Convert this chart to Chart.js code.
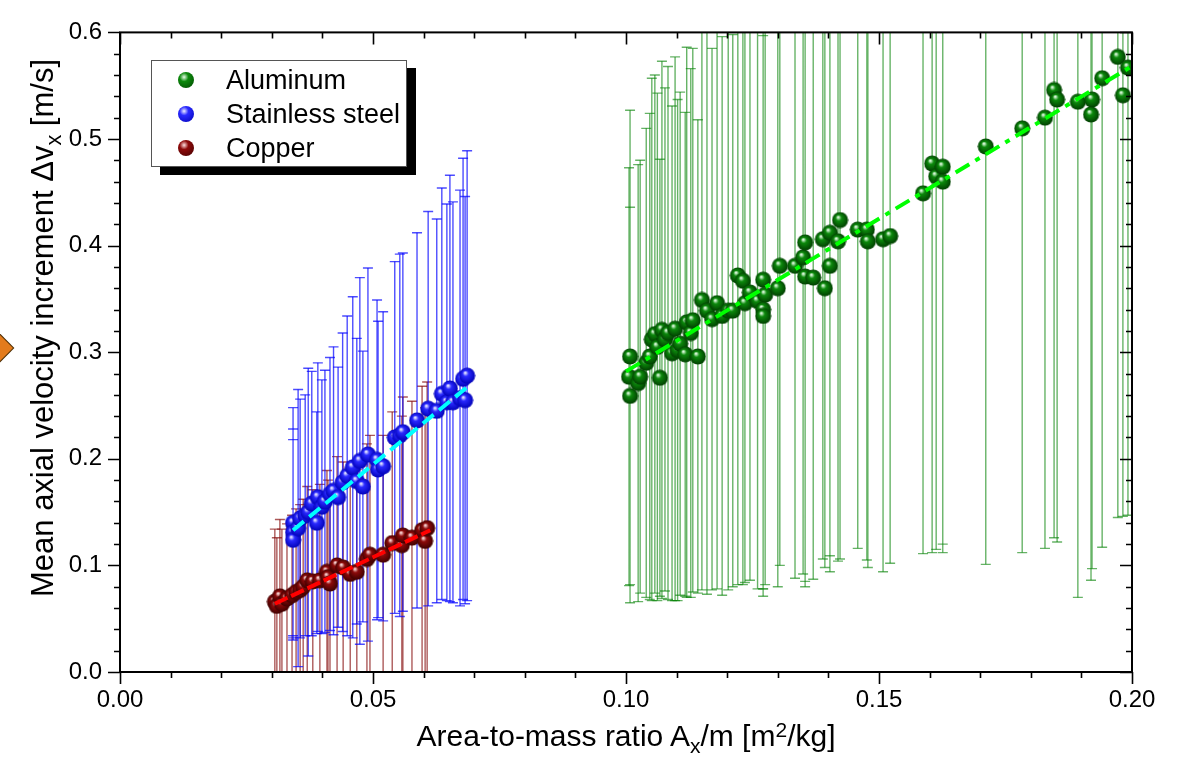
<!DOCTYPE html>
<html lang="en">
<head>
<meta charset="UTF-8">
<title>Mean axial velocity increment vs area-to-mass ratio</title>
<script src="https://cdn.jsdelivr.net/npm/chart.js"></script>
<style>
  body { margin: 0; background: #fff; font-family: "Liberation Sans", Arial, sans-serif; color: #000; }
  #wrap { position: relative; width: 1177px; height: 757px; overflow: hidden; }
  #grafico { position: absolute; left: 0; top: 0; }
  .legenda { position: absolute; left: 151px; top: 60px; width: 254px; height: 105px;
             border: 1px solid #555; background: #fff; box-shadow: 9px 8px 0 #000; }
  .item { position: absolute; left: 26px; height: 34px; line-height: 34px; font-size: 27px; white-space: nowrap; }
  .bola { display: inline-block; width: 16px; height: 16px; border-radius: 50%; vertical-align: middle;
          margin-right: 32px; position: relative; top: -2px; }
  .titulo-x { position: absolute; left: 120px; width: 1012px; top: 718px; line-height: 36px;
              font-size: 30px; text-align: center; }
  .titulo-y { position: absolute; left: -277px; top: 310px; width: 640px; height: 36px; line-height: 36px;
              font-size: 31px; text-align: center; transform: rotate(-90deg); }
  sub { font-size: 0.7em; vertical-align: -0.35em; line-height: 0; }
  sup { font-size: 0.7em; vertical-align: 0.45em; line-height: 0; }
  .seta { position: absolute; left: -17px; top: 335px; width: 24px; height: 24px; background: #e37b1c;
          border: 1px solid #4a2a00; transform: rotate(45deg); }
</style>
</head>
<body>
<div id="wrap">
  <canvas id="grafico" width="1177" height="757"></canvas>
  <div class="seta"></div>
  <div class="legenda">
    <div class="item" style="top:2px"><span class="bola" style="background:radial-gradient(circle at 38% 32%, #e8ffe8 0, #0c8a0c 30%, #004400 100%)"></span>Aluminum</div>
    <div class="item" style="top:36px"><span class="bola" style="background:radial-gradient(circle at 38% 32%, #eeeeff 0, #2a2aff 30%, #0000b4 100%)"></span>Stainless steel</div>
    <div class="item" style="top:70px"><span class="bola" style="background:radial-gradient(circle at 38% 32%, #ffe0e0 0, #8e0a0a 30%, #400000 100%)"></span>Copper</div>
  </div>
  <div class="titulo-x">Area-to-mass ratio A<sub>x</sub>/m [m<sup>2</sup>/kg]</div>
  <div class="titulo-y">Mean axial velocity increment &Delta;v<sub>x</sub> [m/s]</div>
</div>

<script>
// --- data ---
// Aluminum
const alX = [0.1008, 0.1006, 0.1008, 0.1024, 0.1028, 0.1040, 0.1047, 0.1051, 0.1057, 0.1062,
             0.1067, 0.1071, 0.1077, 0.1083, 0.1091, 0.1097, 0.1102, 0.1107, 0.1117, 0.1120,
             0.1128, 0.1132, 0.1142, 0.1150, 0.1160, 0.1170, 0.1180, 0.1190, 0.1202, 0.1211,
             0.1221, 0.1231, 0.1235, 0.1245, 0.1260, 0.1271, 0.1275, 0.1271, 0.1271, 0.1300,
             0.1304, 0.1334, 0.1350, 0.1354, 0.1354, 0.1370, 0.1389, 0.1393, 0.1403, 0.1403,
             0.1419, 0.1423, 0.1458, 0.1476, 0.1478, 0.1508, 0.1522, 0.1587, 0.1605, 0.1613,
             0.1626, 0.1626, 0.1711, 0.1783, 0.1828, 0.1846, 0.1852, 0.1893, 0.1921, 0.1919,
             0.1941, 0.1972, 0.1992, 0.1982];
const alY = [0.296, 0.277, 0.259, 0.271, 0.277, 0.290, 0.296, 0.312, 0.317, 0.305,
             0.276, 0.321, 0.312, 0.318, 0.299, 0.322, 0.302, 0.308, 0.298, 0.328,
             0.318, 0.330, 0.296, 0.349, 0.339, 0.331, 0.346, 0.334, 0.339, 0.339,
             0.372, 0.367, 0.346, 0.356, 0.348, 0.368, 0.354, 0.340, 0.334, 0.360,
             0.381, 0.381, 0.389, 0.403, 0.371, 0.370, 0.406, 0.360, 0.412, 0.381,
             0.404, 0.424, 0.415, 0.415, 0.404, 0.406, 0.409, 0.449, 0.477, 0.465,
             0.474, 0.460, 0.493, 0.510, 0.520, 0.546, 0.537, 0.535, 0.537, 0.523,
             0.557, 0.577, 0.567, 0.541];
const alErr = [0.231, 0.196, 0.177, 0.205, 0.203, 0.220, 0.228, 0.245, 0.243, 0.238,
               0.205, 0.252, 0.236, 0.250, 0.232, 0.255, 0.235, 0.236, 0.227, 0.258,
               0.248, 0.255, 0.222, 0.272, 0.266, 0.254, 0.268, 0.262, 0.262, 0.259,
               0.290, 0.285, 0.262, 0.270, 0.270, 0.290, 0.272, 0.262, 0.263, 0.280,
               0.281, 0.293, 0.297, 0.318, 0.291, 0.283, 0.300, 0.262, 0.303, 0.287,
               0.300, 0.318, 0.299, 0.310, 0.306, 0.312, 0.307, 0.338, 0.365, 0.350,
               0.362, 0.340, 0.392, 0.398, 0.404, 0.420, 0.415, 0.465, 0.440, 0.437,
               0.440, 0.432, 0.420, 0.395];

// Stainless steel
const ssX = [0.0342, 0.0342, 0.0342, 0.0352, 0.0356, 0.0366, 0.0372, 0.0379, 0.0389, 0.0391,
             0.0399, 0.0405, 0.0415, 0.0422, 0.0431, 0.0440, 0.0449, 0.0460, 0.0468, 0.0474,
             0.0480, 0.0490, 0.0508, 0.0510, 0.0520, 0.0543, 0.0553, 0.0559, 0.0587, 0.0609,
             0.0626, 0.0636, 0.0646, 0.0652, 0.0658, 0.0672, 0.0678, 0.0682, 0.0686];
const ssY = [0.140, 0.131, 0.124, 0.135, 0.144, 0.147, 0.150, 0.158, 0.140, 0.164,
             0.155, 0.160, 0.167, 0.170, 0.164, 0.178, 0.184, 0.192, 0.179, 0.198,
             0.174, 0.204, 0.199, 0.190, 0.193, 0.220, 0.222, 0.225, 0.236, 0.247,
             0.245, 0.261, 0.253, 0.266, 0.253, 0.257, 0.275, 0.255, 0.278];
const ssErr = [0.108, 0.097, 0.094, 0.130, 0.112, 0.113, 0.135, 0.124, 0.104, 0.126,
               0.119, 0.123, 0.128, 0.135, 0.122, 0.140, 0.150, 0.160, 0.134, 0.172,
               0.127, 0.175, 0.150, 0.139, 0.145, 0.165, 0.170, 0.168, 0.176, 0.185,
               0.180, 0.193, 0.186, 0.200, 0.188, 0.195, 0.207, 0.191, 0.211];

// Copper
const cuX = [0.0306, 0.0310, 0.0316, 0.0320, 0.0330, 0.0340, 0.0348, 0.0356, 0.0362, 0.0370,
             0.0381, 0.0395, 0.0409, 0.0411, 0.0415, 0.0429, 0.0441, 0.0455, 0.0468, 0.0488,
             0.0494, 0.0520, 0.0538, 0.0557, 0.0559, 0.0577, 0.0597, 0.0603, 0.0607];
const cuY = [0.066, 0.062, 0.071, 0.064, 0.069, 0.072, 0.075, 0.077, 0.080, 0.086,
             0.085, 0.086, 0.094, 0.089, 0.083, 0.100, 0.098, 0.092, 0.094, 0.106,
             0.110, 0.110, 0.121, 0.119, 0.128, 0.126, 0.133, 0.123, 0.135];
const cuErr = [0.068, 0.064, 0.072, 0.070, 0.070, 0.075, 0.078, 0.080, 0.082, 0.088,
               0.086, 0.090, 0.095, 0.091, 0.085, 0.102, 0.099, 0.094, 0.096, 0.108,
               0.112, 0.112, 0.123, 0.121, 0.130, 0.128, 0.135, 0.125, 0.137];

// linear fits (end points)
const fitAlX = [0.1000, 0.1995], fitAlY = [0.282, 0.567];
const fitSsX = [0.0342, 0.0688], fitSsY = [0.133, 0.268];
const fitCuX = [0.0306, 0.0613], fitCuY = [0.064, 0.133];

// axis ticks
const xTicks = [0.00, 0.05, 0.10, 0.15, 0.20];
const yTicks = [0.0, 0.1, 0.2, 0.3, 0.4, 0.5, 0.6];
const xMinor = 0.01, yMinor = 0.02;

// --- helpers ---
function pontos(xs, ys) {
    return xs.map((x, i) => ({ x: x, y: ys[i] }));
}

// each error bar is a two-point segment; a null point breaks the line
function barrasErro(xs, ys, es) {
    const out = [];
    xs.forEach((x, i) => {
        out.push({ x: x, y: ys[i] - es[i] }, { x: x, y: ys[i] + es[i] }, { x: x, y: null });
    });
    return out;
}

// shaded sphere used as point style
function bola(claro, base, escuro) {
    const c = document.createElement('canvas');
    c.width = 17; c.height = 17;
    const g = c.getContext('2d');
    const grad = g.createRadialGradient(6.5, 5.5, 0.5, 8.5, 8.5, 8.5);
    grad.addColorStop(0, claro);
    grad.addColorStop(0.3, base);
    grad.addColorStop(1, escuro);
    g.fillStyle = grad;
    g.beginPath();
    g.arc(8.5, 8.5, 8, 0, Math.PI * 2);
    g.fill();
    return c;
}

const bolaVerde = bola('#e8ffe8', '#0c8a0c', '#003a00');
const bolaAzul = bola('#eeeeff', '#2a2aff', '#0000b4');
const bolaVerm = bola('#ffe0e0', '#8e0a0a', '#380000');

function serieErro(xs, ys, es, cor) {
    return {
        type: 'line',
        data: barrasErro(xs, ys, es),
        showLine: true,
        spanGaps: false,
        borderColor: cor,
        borderWidth: 1.4,
        pointStyle: 'line',
        pointRadius: 5,
        pointBorderColor: cor,
        pointBorderWidth: 1.4,
        tension: 0,
        order: 3
    };
}

function serieFit(xs, ys, cor, tracejado) {
    return {
        type: 'line',
        data: pontos(xs, ys),
        showLine: true,
        borderColor: cor,
        borderWidth: 4,
        borderDash: tracejado,
        pointRadius: 0,
        order: 1
    };
}

function seriePontos(xs, ys, img) {
    return {
        type: 'scatter',
        data: pontos(xs, ys),
        pointStyle: img,
        pointRadius: 8,
        order: 2
    };
}

// frame: box on all sides, outward ticks bottom/left, inward ticks top/right
const moldura = {
    id: 'moldura',
    afterDraw(chart) {
        const { ctx, chartArea: a, scales: { x, y } } = chart;
        ctx.save();
        ctx.strokeStyle = '#000';
        ctx.lineWidth = 2;
        ctx.strokeRect(a.left, a.top, a.right - a.left, a.bottom - a.top);
        ctx.lineWidth = 1.6;
        ctx.beginPath();
        const nx = Math.round((x.max - x.min) / xMinor);
        for (let i = 0; i <= nx; i++) {
            const px = Math.round(x.getPixelForValue(x.min + i * xMinor)) + 0.5;
            const len = i % 5 === 0 ? 12 : 6;
            ctx.moveTo(px, a.bottom); ctx.lineTo(px, a.bottom + len);
            ctx.moveTo(px, a.top); ctx.lineTo(px, a.top + len);
        }
        const ny = Math.round((y.max - y.min) / yMinor);
        for (let i = 0; i <= ny; i++) {
            const py = Math.round(y.getPixelForValue(y.min + i * yMinor)) + 0.5;
            const len = i % 5 === 0 ? 12 : 6;
            ctx.moveTo(a.left, py); ctx.lineTo(a.left - len, py);
            ctx.moveTo(a.right, py); ctx.lineTo(a.right - len, py);
        }
        ctx.stroke();
        ctx.restore();
    }
};

const fonteEixo = { family: '"Liberation Sans", Arial, sans-serif', size: 24 };

new Chart(document.getElementById('grafico'), {
    type: 'scatter',
    data: {
        datasets: [
            serieFit(fitAlX, fitAlY, '#00ff00', [16, 7, 5, 7]),
            serieFit(fitSsX, fitSsY, '#00ffff', [14, 7]),
            serieFit(fitCuX, fitCuY, '#ff0000', [14, 4]),
            seriePontos(alX, alY, bolaVerde),
            seriePontos(ssX, ssY, bolaAzul),
            seriePontos(cuX, cuY, bolaVerm),
            serieErro(alX, alY, alErr, 'rgba(0,128,0,0.6)'),
            serieErro(ssX, ssY, ssErr, 'rgba(0,0,255,0.7)'),
            serieErro(cuX, cuY, cuErr, 'rgba(128,0,0,0.65)')
        ]
    },
    options: {
        responsive: false,
        animation: false,
        layout: { padding: { top: 19, right: 45, left: 0, bottom: 0 } },
        plugins: { legend: { display: false }, tooltip: { enabled: false } },
        scales: {
            x: {
                type: 'linear',
                min: 0, max: 0.2,
                afterBuildTicks: s => { s.ticks = xTicks.map(v => ({ value: v })); },
                afterFit: s => { s.height = 85; },
                ticks: { color: '#000', font: fonteEixo, padding: 14, maxRotation: 0,
                         callback: v => v.toFixed(2) },
                grid: { display: false, drawTicks: false },
                border: { display: false }
            },
            y: {
                type: 'linear',
                min: 0, max: 0.6,
                afterBuildTicks: s => { s.ticks = yTicks.map(v => ({ value: v })); },
                afterFit: s => { s.width = 120; },
                ticks: { color: '#000', font: fonteEixo, padding: 18,
                         callback: v => v.toFixed(1) },
                grid: { display: false, drawTicks: false },
                border: { display: false }
            }
        }
    },
    plugins: [moldura]
});
</script>
</body>
</html>
